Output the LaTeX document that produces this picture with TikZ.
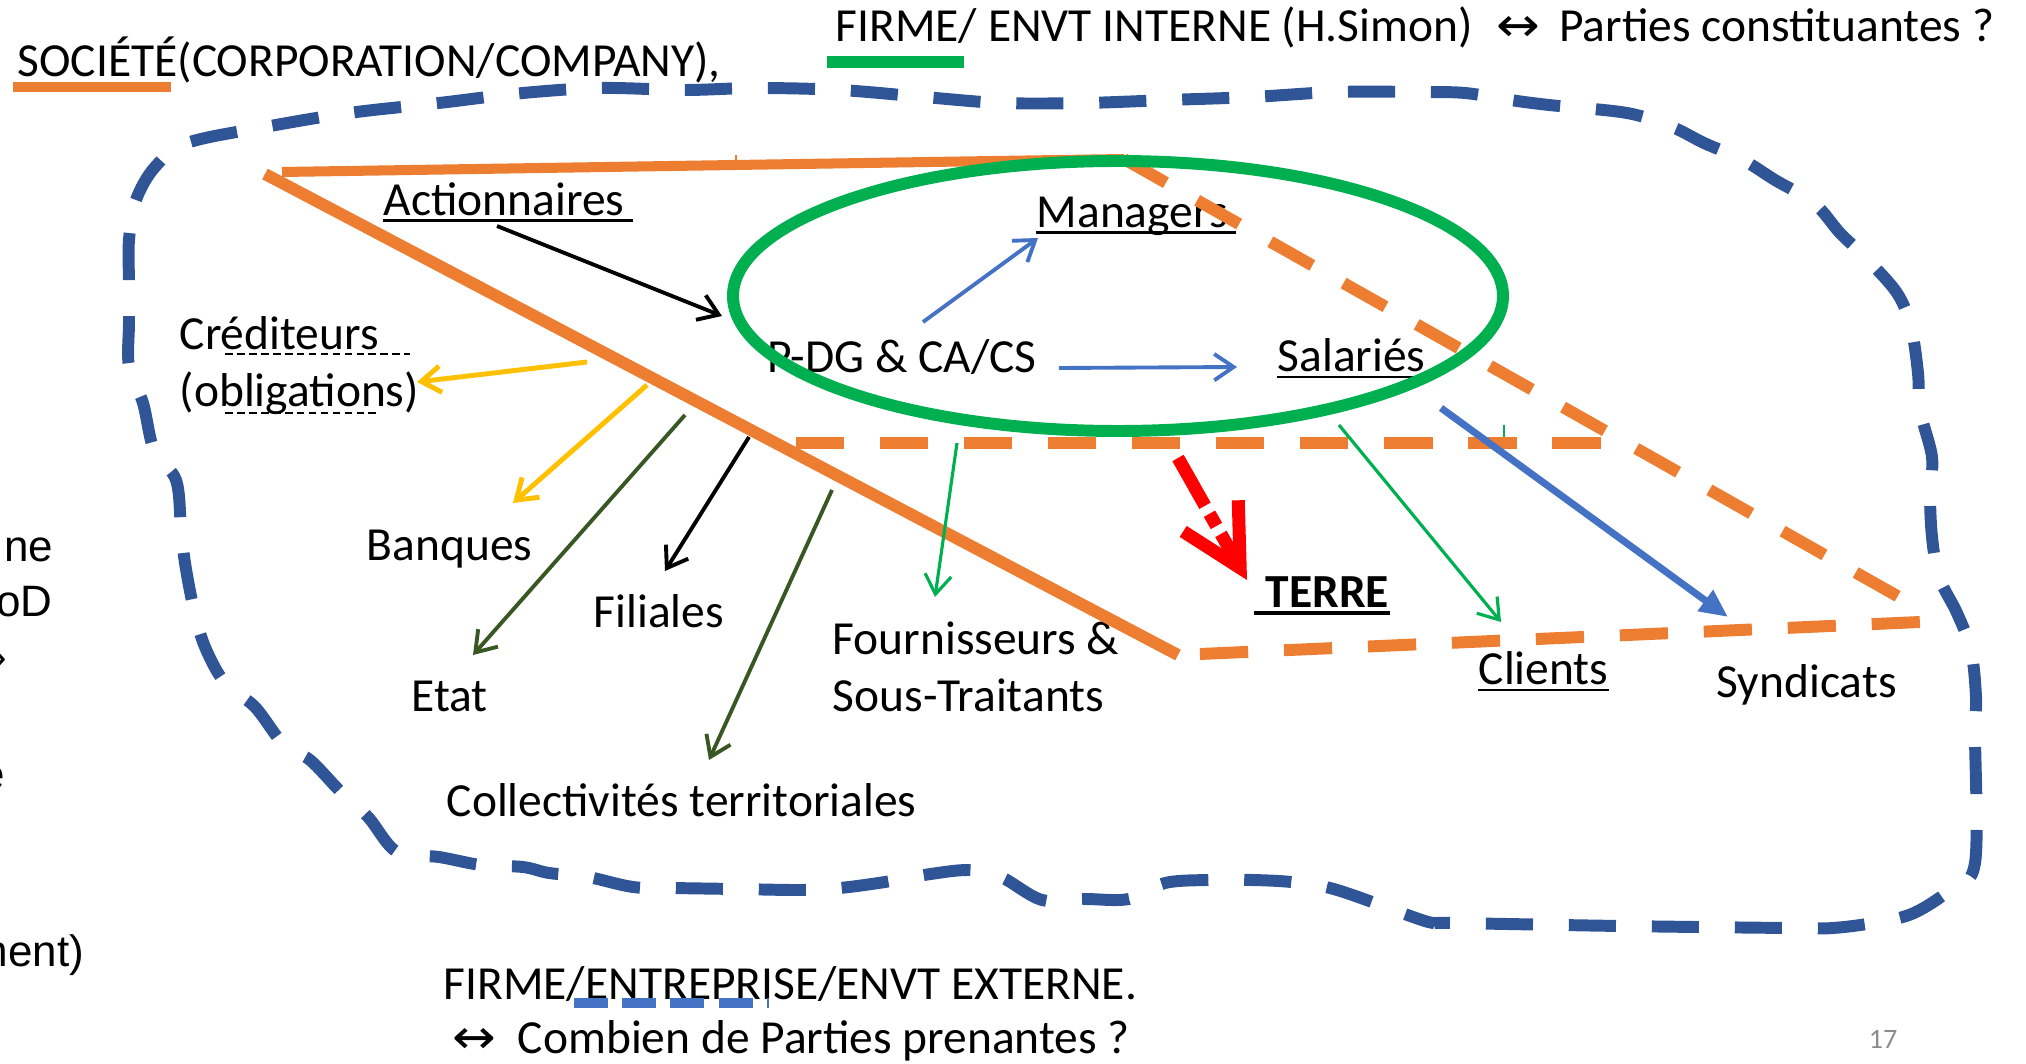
\documentclass[tikz,border=0pt]{standalone}
\usepackage{fontspec}
\setmainfont{Carlito}
\newfontfamily\fragfont{Liberation Sans}
\newfontfamily\arrowfont{DejaVu Sans}
\usetikzlibrary{arrows.meta,calc}
\definecolor{ringblue}{HTML}{2F5597}
\definecolor{orng}{HTML}{ED7D31}
\definecolor{grn}{HTML}{00B050}
\definecolor{accblue}{HTML}{4472C4}
\definecolor{gold}{HTML}{FFC000}
\definecolor{olive}{HTML}{385723}
\definecolor{pagegray}{HTML}{8C8C8C}
\begin{document}
\begin{tikzpicture}[x=0.01cm,y=-0.01cm,line cap=butt,
  lbl/.style={font=\fontsize{13.5}{16}\selectfont,inner sep=0pt,anchor=base west},
  frag/.style={font=\fragfont\fontsize{12.5}{15}\selectfont,inner sep=0pt,anchor=base east},
  ul/.style={line width=0.85pt,black},
  dul/.style={line width=0.6pt,black,dash pattern=on 2.2pt off 1.2pt},
  bound/.style={ringblue,line width=3.4pt,dash pattern=on 13.4pt off 10.2pt},
  odash/.style={orng,line width=3.4pt,dash pattern=on 13.7pt off 10.2pt},
  barb/.style={-{Straight Barb[length=5.5pt,width=7.5pt]}},
  thinarrow/.style={barb,line width=1.1pt}]
\useasboundingbox (0,0) rectangle (2026,1064);

% ---------- labels ----------
\node[lbl] (soc) at (17,77) {SOCIÉTÉ(CORPORATION/COMPANY),};
\node[lbl] (firm) at (835,42) {FIRME/ ENVT INTERNE (H.Simon)\hspace{0.5em}{\arrowfont\scalebox{1.1}[1]{↔}}\hspace{0.4em}Parties constituantes ?};
\node[lbl] (act) at (383,216) {Actionnaires};
\node[lbl] (mgr) at (1036,228) {Managers};
\node[lbl] (pdg) at (767,373) {P-DG \& CA/CS};
\node[lbl] (sal) at (1277,372) {Salariés};
\node[lbl] (cred) at (179,350) {Créditeurs};
\node[lbl] (oblig) at (179,407) {(obligations)};
\node[lbl] (ban) at (366,561) {Banques};
\node[lbl] (fil) at (593,628) {Filiales};
\node[lbl] (etat) at (411,712) {Etat};
\node[lbl] (four) at (832,655) {Fournisseurs \&};
\node[lbl] (sous) at (832,712) {Sous-Traitants};
\node[lbl] (coll) at (446,817) {Collectivités territoriales};
\node[lbl,font=\fontsize{13.5}{16}\selectfont\bfseries] (terre) at (1265,608) {TERRE};
\node[lbl] (cli) at (1478,685) {Clients};
\node[lbl] (syn) at (1716,698) {Syndicats};
\node[lbl] (ext) at (443,1000) {FIRME/ENTREPRISE/ENVT EXTERNE.};
\node[lbl] (parts) at (452,1054) {{\arrowfont\scalebox{1.1}[1]{↔}}\hspace{0.45em}Combien de Parties prenantes ?};
\node[lbl,anchor=base east,font=\fontsize{8}{10}\selectfont,text=pagegray] (pnum) at (1898,1048) {17};

% text running off the left edge
\node[frag] (f1) at (54,562) {ne};
\node[frag] (f2) at (53,617) {oD};
\node[frag] (f3) at (8,672) {›};
\node[frag] (f4) at (6,790) {e};
\node[frag] (f5) at (85,967) {ment)};

% ---------- underlines ----------
\draw[orng,line width=3.1pt] (13,87) -- (171,87);
\draw[grn,line width=3.4pt] (827,62) -- (964,62);
\draw[ul] ($(act.base west)+(0,5)$) -- ($(act.base east)+(8,5)$);
\draw[ul] ($(mgr.base west)+(0,5)$) -- ($(mgr.base east)+(8,5)$);
\draw[ul] ($(sal.base west)+(0,5)$) -- ($(sal.base east)+(0,5)$);
\draw[ul,line width=1.1pt] ($(terre.base west)+(-11,5)$) -- ($(terre.base east)+(0,5)$);
\draw[ul] ($(cli.base west)+(0,5)$) -- ($(cli.base east)+(0,5)$);
\draw[dul] ($(cred.base west)+(46,4)$) -- ($(cred.base east)+(31,4)$);
\draw[dul] ($(oblig.base west)+(46,6)$) -- ($(oblig.base east)+(-40,6)$);
\draw[accblue,line width=3.1pt,dash pattern=on 9.7pt off 4pt] ($(ext.base west)+(131,3)$) -- ($(ext.base west)+(326,3)$);

% ---------- outer dashed boundary ----------
\draw[bound] plot[smooth cycle,tension=0.55] coordinates {
 (129,240) (136,200) (155,167) (187,143) (265,127) (349,113) (439,103) (523,93)
 (601,88) (685,90) (756,88) (840,90) (924,97) (1001,103) (1084,103) (1168,100)
 (1252,97) (1336,92) (1420,92) (1465,93) (1510,100) (1549,105) (1627,113)
 (1672,127) (1704,143) (1743,160) (1775,180) (1814,203) (1840,233) (1865,257)
 (1897,293) (1911,327) (1918,373) (1920,410) (1932,457) (1930,493) (1932,537)
 (1939,577) (1957,613) (1971,650) (1976,697) (1975,733) (1975,863) (1950,890)
 (1914,913) (1879,922) (1833,928) (1788,928) (1620,926) (1452,923) (1433,923)
 (1413,917) (1375,903) (1330,888) (1291,882) (1252,880) (1207,880) (1165,883)
 (1129,899) (1084,899) (1042,900) (1001,877) (969,870) (924,875) (885,882)
 (840,888) (801,890) (736,889) (672,888) (633,887) (588,877) (549,873) (523,867)
 (481,865) (439,857) (397,852) (368,817) (339,790) (310,760) (284,745) (255,707)
 (225,683) (205,647) (194,610) (185,563) (181,527) (176,480) (154,450) (143,403)
 (129,367) (129,323) (129,283)};

% ---------- orange triangle ----------
\coordinate (tl) at (282,172);
\coordinate (tm) at (1124,159);
\coordinate (dl) at (265,174);
\coordinate (dm) at (1178,655);
\coordinate (bm) at (1200,654);
\coordinate (tr) at (1899,597);
\coordinate (br) at (1920,622);
\draw[orng,line width=2.85pt] (tl) -- (tm);
\draw[orng,line width=3.4pt] (dl) -- (dm);
\draw[odash] (tm) -- (tr);
\draw[odash] (bm) -- (br);
\coordinate (ml) at (796,443);
\coordinate (mr) at (1602,443);
\draw[odash] (ml) -- (mr);
\draw[orng,line width=0.4pt] (736,155) -- (736,167);

% ---------- firm ellipse ----------
\draw[grn,line width=3.4pt] (1118,296) ellipse [x radius=385, y radius=135];
\draw[grn,line width=0.4pt] (1504,425) -- (1504,437);

% ---------- connectors ----------
\coordinate (act-out) at (497,226);
\coordinate (pdg-in) at (722,316);
\draw[thinarrow,black] (act-out) -- (pdg-in);

\coordinate (pdg-up) at (923,322);
\coordinate (mgr-in) at (1038,238);
\draw[thinarrow,accblue] (pdg-up) -- (mgr-in);

\coordinate (pdg-right) at (1059,368);
\coordinate (sal-in) at (1237,367);
\draw[thinarrow,accblue] (pdg-right) -- (sal-in);

\coordinate (cred-out) at (587,362);
\coordinate (cred-in) at (417,382);
\draw[thinarrow,gold,line width=1.4pt] (cred-out) -- (cred-in);

\coordinate (ban-out) at (647,385);
\coordinate (ban-in) at (513,503);
\draw[thinarrow,gold,line width=1.4pt] (ban-out) -- (ban-in);

\coordinate (etat-out) at (685,415);
\coordinate (etat-in) at (473,655);
\draw[thinarrow,olive] (etat-out) -- (etat-in);

\coordinate (fil-out) at (749,437);
\coordinate (fil-in) at (665,571);
\draw[thinarrow,black] (fil-out) -- (fil-in);

\coordinate (coll-out) at (832,490);
\coordinate (coll-in) at (709,760);
\draw[thinarrow,olive] (coll-out) -- (coll-in);

\coordinate (four-out) at (957,443);
\coordinate (four-in) at (935,597);
\draw[thinarrow,grn,line width=0.9pt] (four-out) -- (four-in);

\coordinate (terre-out) at (1178,458);
\coordinate (terre-in) at (1247,580);
\draw[red,line width=3.7pt,dash pattern=on 15.6pt off 2.6pt on 4pt off 2.6pt,
  -{Straight Barb[length=17pt,width=18pt]}] (terre-out) -- (terre-in);

\coordinate (cli-out) at (1339,425);
\coordinate (cli-in) at (1501,622);
\draw[thinarrow,grn,line width=0.9pt] (cli-out) -- (cli-in);

\coordinate (syn-out) at (1441,408);
\coordinate (syn-in) at (1728,617);
\draw[accblue,line width=2pt,-{Triangle[length=8pt,width=7pt]}] (syn-out) -- (syn-in);
\end{tikzpicture}
\end{document}
